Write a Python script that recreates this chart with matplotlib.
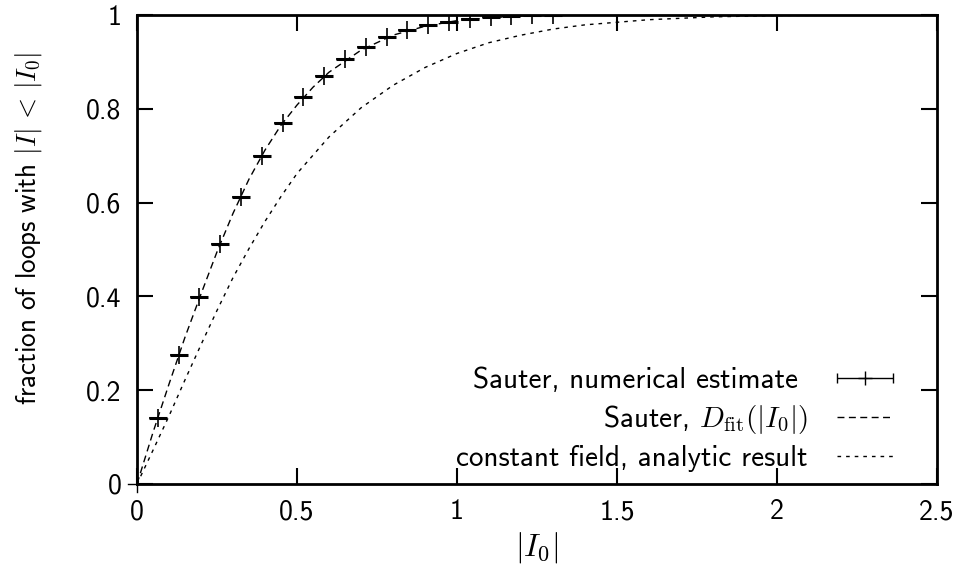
import numpy as np
import matplotlib
matplotlib.use("Agg")
import matplotlib.pyplot as plt
from matplotlib.legend_handler import HandlerErrorbar

plt.rcParams['font.family'] = ['cmss10', 'DejaVu Sans']
plt.rcParams['mathtext.fontset'] = 'cm'
plt.rcParams['axes.unicode_minus'] = False

# Numerical estimate (Sauter)
num_x = [0.065, 0.13, 0.195, 0.26, 0.325, 0.39, 0.455, 0.52, 0.585, 0.65,
         0.715, 0.78, 0.845, 0.91, 0.975, 1.04, 1.105, 1.17, 1.235, 1.3]
num_y = [0.140, 0.274, 0.398, 0.512, 0.613, 0.700, 0.770, 0.825, 0.871, 0.907,
         0.932, 0.954, 0.968, 0.979, 0.986, 0.992, 0.996, 0.998, 0.999, 1.0]

# Sauter fit curve D_fit(|I0|)
fit_x = [0, 0.05, 0.1, 0.15, 0.2, 0.25, 0.3, 0.35, 0.4, 0.45, 0.5, 0.55, 0.6,
         0.7, 0.8, 0.9, 1.0, 1.1, 1.2, 1.3, 1.5, 2.0, 2.5]
fit_y = [0, 0.110, 0.213, 0.313, 0.405, 0.495, 0.577, 0.650, 0.712, 0.765,
         0.808, 0.846, 0.878, 0.925, 0.957, 0.976, 0.988, 0.994, 0.998, 0.9995,
         1.0, 1.0, 1.0]

# Constant field, analytic result
ana_x = [0, 0.05, 0.1, 0.15, 0.2, 0.25, 0.3, 0.35, 0.4, 0.45, 0.5, 0.6, 0.7,
         0.8, 0.9, 1.0, 1.1, 1.2, 1.3, 1.4, 1.6, 1.8, 2.0, 2.5]
ana_y = [0, 0.072, 0.145, 0.222, 0.297, 0.370, 0.440, 0.502, 0.560, 0.613,
         0.662, 0.740, 0.802, 0.850, 0.888, 0.918, 0.941, 0.957, 0.970, 0.979,
         0.990, 0.996, 0.999, 1.0]

x_ticks = [0, 0.5, 1, 1.5, 2, 2.5]
x_ticklabels = ['0', '0.5', '1', '1.5', '2', '2.5']
y_ticks = [0, 0.2, 0.4, 0.6, 0.8, 1]
y_ticklabels = ['0', '0.2', '0.4', '0.6', '0.8', '1']

fig = plt.figure(figsize=(9.65, 5.7), dpi=100)
ax = fig.add_axes([137/965, 1-484/570, 800/965, 469/570])

ax.plot(fit_x, fit_y, color='black', lw=1.0, dashes=(5, 3.2), label='_nolegend_')
ax.plot(ana_x, ana_y, color='black', lw=1.0, dashes=(2.6, 3.6), label='_nolegend_')
ax.plot(num_x, num_y, ls='none', marker='_', ms=13, mew=2.2, color='black')
ax.plot(num_x, num_y, ls='none', marker='+', ms=13, mew=1.2, color='black')

# legend proxies
eb = ax.errorbar([np.nan], [np.nan], xerr=[0.1], fmt='+', color='black', ms=10,
                 mew=1.0, elinewidth=1.0, capsize=3.8, capthick=1.0,
                 label='Sauter, numerical estimate ')
h2, = ax.plot([], [], color='black', lw=1.0, dashes=(5, 3.2),
              label=r'Sauter, $D_{\mathrm{fit}}(|I_0|)$')
h3, = ax.plot([], [], color='black', lw=1.0, dashes=(2.6, 3.6),
              label='constant field, analytic result')

ax.set_xlim(0, 2.5)
ax.set_ylim(0, 1)
ax.set_xticks(x_ticks)
ax.set_xticklabels(x_ticklabels)
ax.set_yticks(y_ticks)
ax.set_yticklabels(y_ticklabels)
ax.tick_params(direction='in', length=11.5, width=1.5, labelsize=20,
               top=True, right=True)
ax.tick_params(axis='x', pad=11)
ax.tick_params(axis='y', pad=11)
for s in ax.spines.values():
    s.set_linewidth(2.0)

# small outward stubs at the origin
ax.plot([0, 0], [0, -0.017], transform=ax.transAxes, color='black', lw=1.0, clip_on=False)
ax.plot([0, -0.011], [0, 0], transform=ax.transAxes, color='black', lw=1.0, clip_on=False)

ax.set_xlabel(r'$|I_0|$', fontsize=23, labelpad=4)
ax.set_ylabel(r'fraction of loops with $|I|\,<\,|I_0|$', fontsize=19.5)
ax.yaxis.set_label_coords((44 - 137) / 800, (484 - 228) / 469)

leg = ax.legend(handles=[eb, h2, h3], loc='lower right',
                bbox_to_anchor=((893-137)/800, (484-472)/469),
                frameon=False, markerfirst=False, fontsize=21,
                handlelength=1.92, handletextpad=1.0, labelspacing=0.3,
                borderpad=0, borderaxespad=0, numpoints=1,
                handler_map={type(eb): HandlerErrorbar(xerr_size=0.96)})

fig.savefig('out.png', dpi=100)
